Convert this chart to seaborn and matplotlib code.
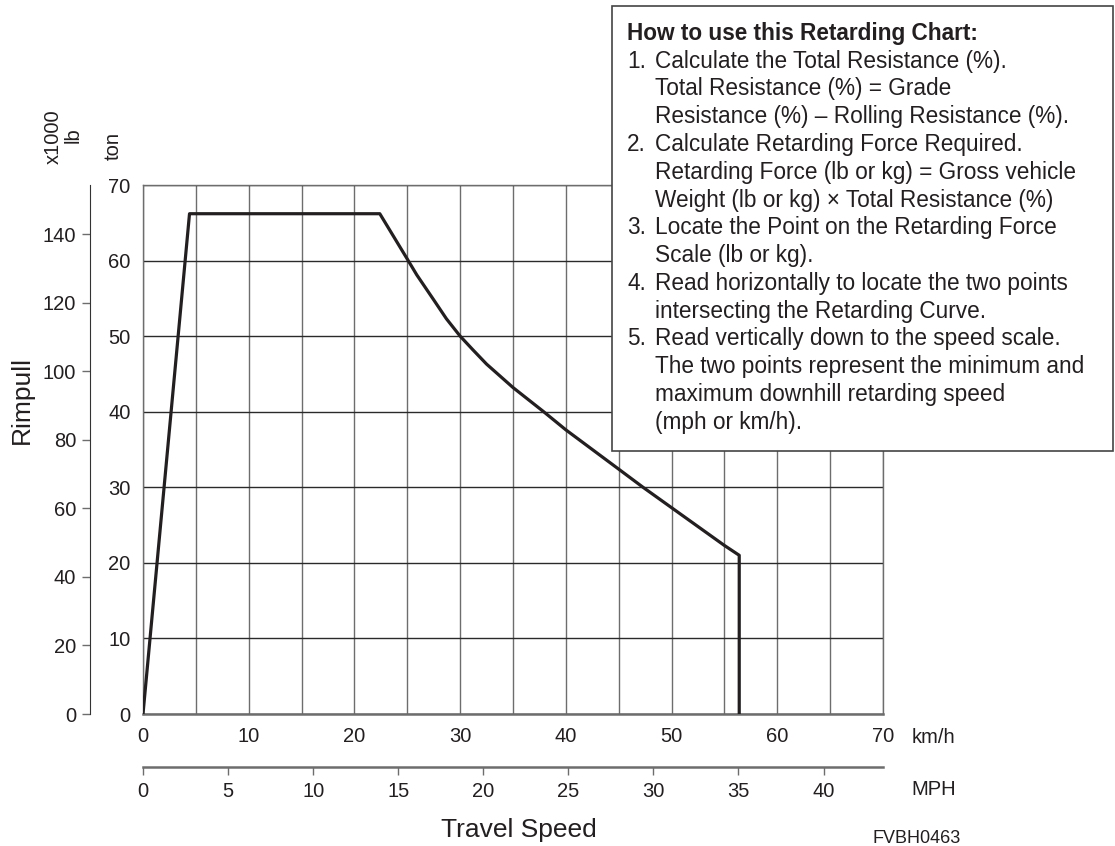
import numpy as np
import pandas as pd
import matplotlib
matplotlib.use("Agg")
import matplotlib.pyplot as plt
from matplotlib.patches import Rectangle
import seaborn as sns

# retarding curve (km/h vs ton)
speed_kmh = [0, 4.4, 22.4, 25.0, 25.9, 27.5, 28.7, 30.0, 31.2, 32.5, 35.0, 37.9, 40.0, 45.0, 47.3, 50.0, 55.0, 56.4, 56.4]
force_ton = [0, 66.2, 66.2, 60.2, 58.1, 54.8, 52.3, 50.0, 48.2, 46.3, 43.2, 40.0, 37.6, 32.4, 30.0, 27.3, 22.3, 21.0, 0]

ton_ticks = [0, 10, 20, 30, 40, 50, 60, 70]
klb_ticks = [0, 20, 40, 60, 80, 100, 120, 140]
kmh_ticks = [0, 10, 20, 30, 40, 50, 60, 70]
mph_ticks = [0, 5, 10, 15, 20, 25, 30, 35, 40]

help_title = "How to use this Retarding Chart:"
help_lines = [
    ("1.", "Calculate the Total Resistance (%)."),
    ("", "Total Resistance (%) = Grade"),
    ("", "Resistance (%) \u2013 Rolling Resistance (%)."),
    ("2.", "Calculate Retarding Force Required."),
    ("", "Retarding Force (lb or kg) = Gross vehicle"),
    ("", "Weight (lb or kg) \u00d7 Total Resistance (%)"),
    ("3.", "Locate the Point on the Retarding Force"),
    ("", "Scale (lb or kg)."),
    ("4.", "Read horizontally to locate the two points"),
    ("", "intersecting the Retarding Curve."),
    ("5.", "Read vertically down to the speed scale."),
    ("", "The two points represent the minimum and"),
    ("", "maximum downhill retarding speed"),
    ("", "(mph or km/h)."),
]

KLB_PER_TON = 2.20462
KMH_PER_MPH = 1.609344

sns.set_style("white")
plt.rcParams["font.family"] = ["Liberation Sans", "DejaVu Sans"]

ink = "#231f20"
W, H = 1115, 846
fig = plt.figure(figsize=(W / 100, H / 100), dpi=100)


def px(x, y):
    return x / W, 1 - y / H


ax = fig.add_axes([143 / W, 1 - 714 / H, 740 / W, 529 / H])

df = pd.DataFrame({"kmh": speed_kmh, "ton": force_ton})
sns.lineplot(data=df, x="kmh", y="ton", sort=False, estimator=None,
             color=ink, lw=2.3, ax=ax, zorder=3)

ax.set_xlim(0, 70)
ax.set_ylim(0, 70)
ax.set_xticks(kmh_ticks)
ax.set_xticks(np.arange(5, 70, 10), minor=True)
ax.set_yticks(ton_ticks)
ax.grid(axis="x", which="both", color="#6d6d6d", lw=1)
ax.grid(axis="y", which="major", color="#2a2a2a", lw=1)
ax.tick_params(which="major", direction="out", length=6, width=1, color="#6d6d6d",
               labelsize=14.5, labelcolor=ink, pad=3)
ax.tick_params(which="minor", length=0)
for s in ax.spines.values():
    s.set_color("#6d6d6d")
    s.set_linewidth(1)
ax.spines["bottom"].set_linewidth(1.8)
ax.set_xlabel("")
ax.set_ylabel("")

# lb scale on the far left
sec_y = ax.secondary_yaxis(-0.0716, functions=(lambda t: t * KLB_PER_TON,
                                                lambda k: k / KLB_PER_TON))
sec_y.set_yticks(klb_ticks)
sec_y.tick_params(direction="out", length=6, width=1, color="#6d6d6d",
                  labelsize=14.5, labelcolor=ink, pad=4)
sec_y.spines["left"].set_color("#333333")

# MPH scale below
sec_x = ax.secondary_xaxis(-0.0996, functions=(lambda k: k / KMH_PER_MPH,
                                                lambda m: m * KMH_PER_MPH))
sec_x.set_xticks(mph_ticks)
sec_x.tick_params(direction="out", length=6, width=1, color="#6d6d6d",
                  labelsize=14.5, labelcolor=ink, pad=5)
sec_x.spines["bottom"].set_color("#6d6d6d")
sec_x.spines["bottom"].set_linewidth(1.8)

# axis texts
fig.text(*px(912, 737), "km/h", ha="left", va="center", fontsize=14.5, color=ink)
fig.text(*px(911, 789), "MPH", ha="left", va="center", fontsize=14.5, color=ink)
fig.text(*px(519, 830), "Travel Speed", ha="center", va="center", fontsize=19, color=ink)
fig.text(*px(872, 838), "FVBH0463", ha="left", va="center", fontsize=13, color=ink)
fig.text(*px(22, 400), "Rimpull", ha="center", va="center", rotation=90, fontsize=19, color=ink)
fig.text(*px(53, 137), "x1000", ha="center", va="center", rotation=90, fontsize=14.5, color=ink)
fig.text(*px(73, 135), "lb", ha="center", va="center", rotation=90, fontsize=14.5, color=ink)
fig.text(*px(113, 146), "ton", ha="center", va="center", rotation=90, fontsize=14.5, color=ink)

# instructions box
x0, y0 = px(612, 451)
x1, y1 = px(1113, 6)
fig.add_artist(Rectangle((x0, y0), x1 - x0, y1 - y0, transform=fig.transFigure,
                         facecolor="white", edgecolor="#444444", lw=1.2, zorder=5))
fig.text(*px(627, 40), help_title, ha="left", va="baseline", fontsize=16.3,
         fontweight="bold", color=ink, zorder=6)
for i, (num, line) in enumerate(help_lines):
    yb = 40 + 27.75 * (i + 1)
    if num:
        fig.text(*px(627, yb), num, ha="left", va="baseline", fontsize=16.3, color=ink, zorder=6)
    fig.text(*px(655, yb), line, ha="left", va="baseline", fontsize=16.3, color=ink, zorder=6)

fig.savefig("out.png", dpi=100)
